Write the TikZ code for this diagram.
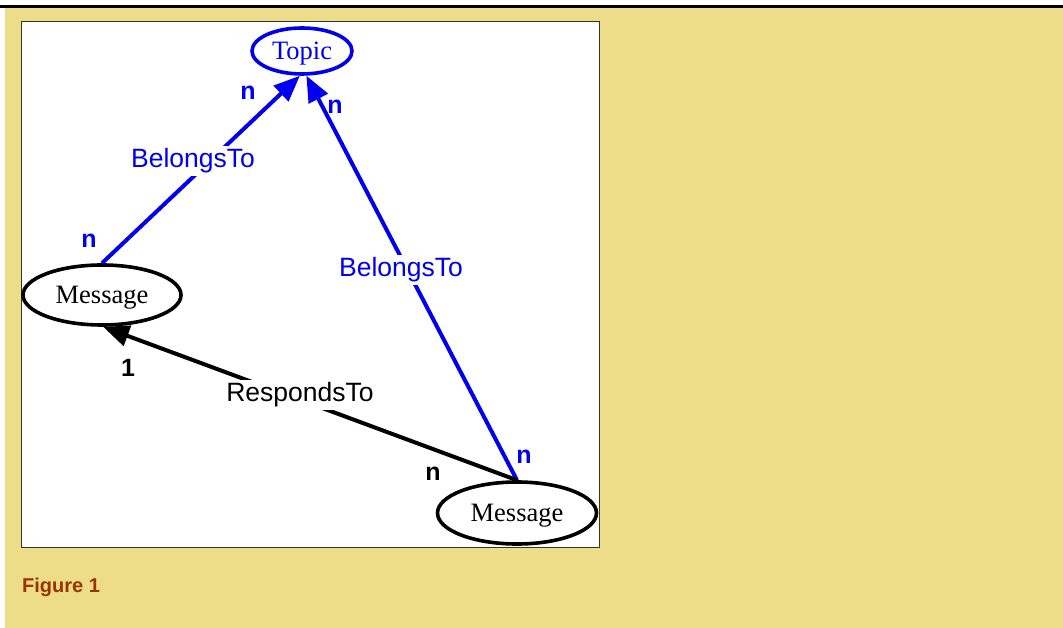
\documentclass[tikz,border=0pt]{standalone}
\usepackage{fontspec}
\setmainfont{Liberation Serif}
\setsansfont{Liberation Sans}
\usetikzlibrary{arrows.meta,shapes.geometric}
\definecolor{bgyellow}{HTML}{EEDD88}
\definecolor{figbrown}{HTML}{993300}
\definecolor{eblue}{HTML}{0000EE}
\newcommand{\lowtxt}[1]{\raisebox{-3pt}[\height][\depth]{#1}}
\begin{document}
\begin{tikzpicture}[x=1pt,y=-1pt,
  ent/.style={draw, line width=3.6pt, ellipse, inner sep=0pt, font=\fontsize{26.5}{30}\selectfont},
  rel/.style={line width=4pt, -{Triangle[length=26pt,width=21pt]}},
  lab/.style={font=\sffamily\fontsize{26.5}{30}\selectfont, fill=white, inner sep=3pt},
  card/.style={font=\sffamily\bfseries\fontsize{25}{28}\selectfont, inner sep=0pt}]
\useasboundingbox (0,0) rectangle (1063,628);
\fill[bgyellow] (5,8) rectangle (1063,628);
\fill[black] (0,5) rectangle (1063,8);
\draw[fill=white, draw=black!80, line width=1pt] (21,22) rectangle (599,547);
\node[ent, draw=eblue, text=eblue, minimum width=100pt, minimum height=46pt] (topic) at (302,51) {\lowtxt{Topic}};
\node[ent, minimum width=158pt, minimum height=60pt] (m1) at (102,295) {\lowtxt{Message}};
\node[ent, minimum width=159pt, minimum height=62pt] (m2) at (517,513) {\lowtxt{Message}};
\draw[rel, eblue] (m1.north) -- (topic.265);
\draw[rel, eblue] (m2.north) -- (topic.280);
\draw[rel, black] (m2.north) -- (m1.-88);
\node[lab, text=eblue] (b1) at (193,161) {BelongsTo};
\node[lab, text=eblue] (b2) at (401,270) {BelongsTo};
\node[lab] (r1) at (300,395) {RespondsTo};
\node[card, text=eblue] (n1) at (248,93) {n};
\node[card, text=eblue] (n2) at (335,107) {n};
\node[card, text=eblue] (n3) at (89,241) {n};
\node[card, text=eblue] (n4) at (524,457) {n};
\node[card] (n5) at (433,474) {n};
\node[card] (c1) at (128,368) {1};
\node[font=\sffamily\bfseries\fontsize{20}{24}\selectfont, text=figbrown, anchor=west, inner sep=0pt] (fig) at (22,587) {Figure 1};
\end{tikzpicture}
\end{document}
